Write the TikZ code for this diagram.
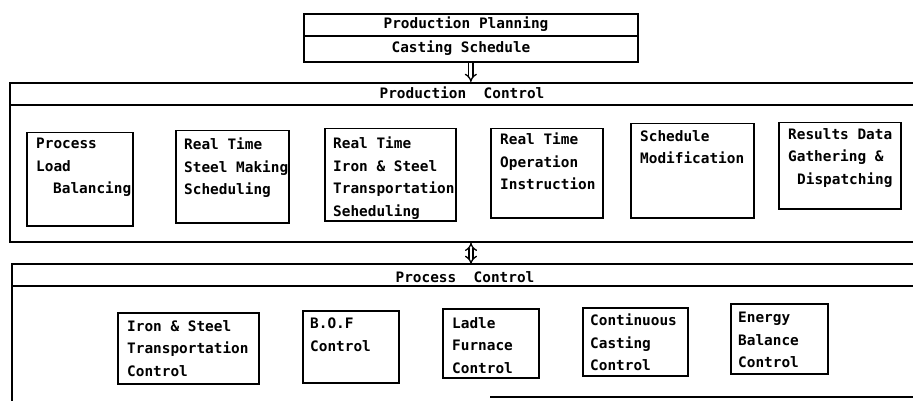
\documentclass[tikz,border=0pt]{standalone}
\usepackage{fontspec}
\newfontfamily\dmono{DejaVu Sans Mono}
\usetikzlibrary{arrows.meta}
\tikzset{
  frame/.style={draw, line width=1.7pt, inner sep=0pt, anchor=north west},
  boxn/.style={draw, line width=1.5pt, inner sep=0pt, anchor=north west},
  rule/.style={line width=1.7pt},
  txt/.style={inner sep=0pt, anchor=north west, align=left, font=\dmono\bfseries\fontsize{14.4}{22.5}\selectfont},
  lbl/.style={inner sep=0pt, anchor=base, font=\dmono\bfseries\fontsize{14.4}{22.5}\selectfont},
  dblarrow/.style={double, double distance=2.8pt, line width=1.3pt, -{Implies}},
}
\begin{document}
\begin{tikzpicture}[x=1pt, y=-1pt]
\useasboundingbox (0,0) rectangle (913,401);
\fill[white] (0,0) rectangle (913,401);
\clip (0,0) rectangle (913,401);

% top box
\node[frame, minimum width=334pt, minimum height=48pt] (pp) at (303,13) {};
\coordinate (d1) at (0,36);
\draw[rule] (pp.west |- d1) -- (pp.east |- d1);
\node[lbl] (ppt) at (466,29) {Production Planning};
\node[lbl] (cst) at (461,53) {Casting Schedule};

% production control frame
\node[frame, minimum width=930pt, minimum height=159pt] (prodf) at (9,82) {};
\coordinate (d2) at (0,105);
\draw[rule] (prodf.west |- d2) -- (prodf.east |- d2);
\node[lbl] (pclab) at (462,99) {Production\ \ Control};

% production control boxes
\node[boxn, minimum width=106pt, minimum height=93pt] (b1) at (26,132) {};
\node[txt] (t1) at (36,138) {Process\\Load\\\hspace*{17pt}Balancing};
\node[boxn, minimum width=113pt, minimum height=92pt] (b2) at (175,130) {};
\node[txt] (t2) at (184,138) {Real Time\\Steel Making\\Scheduling};
\node[boxn, minimum width=131pt, minimum height=92pt] (b3) at (324,128) {};
\node[txt] (t3) at (333,137) {Real Time\\Iron \& Steel\\Transportation\\Seheduling};
\node[boxn, minimum width=112pt, minimum height=89pt] (b4) at (490,128) {};
\node[txt] (t4) at (500,133) {Real Time\\Operation\\Instruction};
\node[boxn, minimum width=123pt, minimum height=94pt] (b5) at (630,123) {};
\node[txt] (t5) at (640,130) {Schedule\\Modification};
\node[boxn, minimum width=122pt, minimum height=86pt] (b6) at (778,122) {};
\node[txt] (t6) at (788,128) {Results Data\\Gathering \&\\\hspace*{9pt}Dispatching};

% process control frame (open at bottom left)
\node[inner sep=0pt, anchor=north west, minimum width=930pt, minimum height=150pt] (procf) at (12,264) {};
\draw[rule] (procf.south west) -- (procf.north west) -- (procf.north east);
\coordinate (d3) at (0,286);
\draw[rule] (procf.west |- d3) -- (procf.east |- d3);
\coordinate (d4) at (490,397);
\draw[rule] (d4) -- (d4 -| procf.east);
\node[lbl] (prlab) at (465,282) {Process\ \ Control};

% process control boxes
\node[boxn, minimum width=141pt, minimum height=71pt] (pa) at (117,312) {};
\node[txt] (ta) at (127,320) {Iron \& Steel\\Transportation\\Control};
\node[boxn, minimum width=96pt, minimum height=72pt] (pb) at (302,310) {};
\node[txt] (tb) at (310,318) {B.O.F\\Control};
\node[boxn, minimum width=96pt, minimum height=69pt] (pc) at (442,308) {};
\node[txt] (tc) at (452,317) {Ladle\\Furnace\\Control};
\node[boxn, minimum width=105pt, minimum height=68pt] (pd) at (582,307) {};
\node[txt] (td) at (590,314) {Continuous\\Casting\\Control};
\node[boxn, minimum width=97pt, minimum height=70pt] (pe) at (730,303) {};
\node[txt] (te) at (738,312) {Energy\\Balance\\Control};

% arrows
\draw[dblarrow] (pp.south) -- (pp.south |- prodf.north);
\coordinate (ax) at (471,0);
\draw[dblarrow, {Implies}-{Implies}] (ax |- prodf.south) -- (ax |- procf.north);
\end{tikzpicture}
\end{document}
